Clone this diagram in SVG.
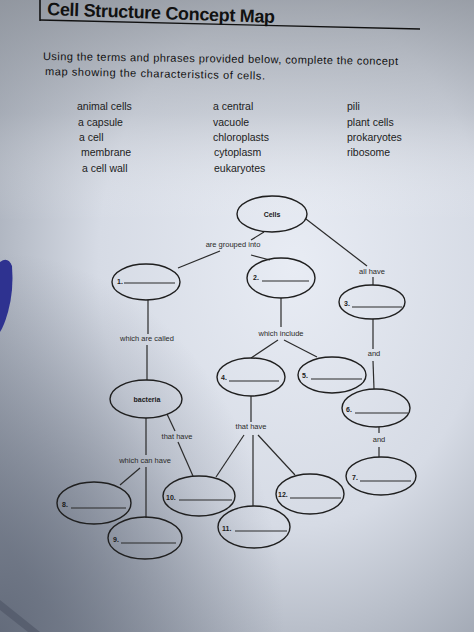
<svg xmlns="http://www.w3.org/2000/svg" width="474" height="632" viewBox="0 0 474 632">
<defs>
<radialGradient id="paper" cx="0.62" cy="0.42" r="0.75">
<stop offset="0" stop-color="#e8ecf4"/>
<stop offset="0.55" stop-color="#d6dbe5"/>
<stop offset="1" stop-color="#9aa1ad"/>
</radialGradient>
<linearGradient id="topshade" x1="0" y1="0" x2="0" y2="1">
<stop offset="0" stop-color="#8e939b" stop-opacity="0.75"/>
<stop offset="0.18" stop-color="#a0a5ad" stop-opacity="0.35"/>
<stop offset="0.35" stop-color="#ffffff" stop-opacity="0"/>
</linearGradient>
<radialGradient id="corner" cx="0" cy="1" r="0.6">
<stop offset="0" stop-color="#5e6676" stop-opacity="0.9"/>
<stop offset="1" stop-color="#5e6676" stop-opacity="0"/>
</radialGradient>
<style>
.ln{stroke:#2b2b2b;stroke-width:1.2;fill:none}
.el{stroke:#1f1f1f;stroke-width:1.4;fill:none}
.lb{font-family:"Liberation Sans",Arial,sans-serif;font-size:7.5px;fill:#2a2a2a}
.nm{font-family:"Liberation Sans",Arial,sans-serif;font-size:7px;font-weight:bold;fill:#1a1a1a}
.tm{font-family:"Liberation Sans",Arial,sans-serif;font-size:10.5px;fill:#1c1c1c}
.hd{font-family:"Liberation Sans",Arial,sans-serif;fill:#111}
</style>
</defs>
<rect width="474" height="632" fill="url(#paper)"/>
<rect width="474" height="632" fill="url(#topshade)"/>
<rect width="474" height="632" fill="url(#corner)"/>
<path d="M0 600 L40 632 L28 632 L0 610 Z" fill="#4c5464" opacity="0.6"/>
<path d="M0 262 Q8 256 12 266 Q14 290 8 312 Q4 326 0 332 Z" fill="#2e3290"/>

<g id="header">
<line x1="40" y1="0" x2="40" y2="21" stroke="#111" stroke-width="1.6"/>
<line x1="40" y1="20" x2="420" y2="29" stroke="#111" stroke-width="1.3"/>
<text class="hd" x="47" y="15" font-size="18" font-weight="bold" textLength="228" transform="rotate(2 47 15)">Cell Structure Concept Map</text>
<text class="hd" x="43" y="60" font-size="11" textLength="355" transform="rotate(0.8 43 60)">Using the terms and phrases provided below, complete the concept</text>
<text class="hd" x="45" y="75" font-size="11" textLength="220" transform="rotate(1.2 45 75)">map showing the characteristics of cells.</text>
</g>

<g id="terms">
<text class="tm" x="77" y="110">animal cells</text>
<text class="tm" x="78" y="126">a capsule</text>
<text class="tm" x="79" y="141">a cell</text>
<text class="tm" x="81" y="156">membrane</text>
<text class="tm" x="82" y="172">a cell wall</text>
<text class="tm" x="213" y="110">a central</text>
<text class="tm" x="213" y="126">vacuole</text>
<text class="tm" x="213" y="141">chloroplasts</text>
<text class="tm" x="214" y="156">cytoplasm</text>
<text class="tm" x="214" y="172">eukaryotes</text>
<text class="tm" x="347" y="110">pili</text>
<text class="tm" x="347" y="126">plant cells</text>
<text class="tm" x="347" y="141">prokaryotes</text>
<text class="tm" x="347" y="156">ribosome</text>
</g>

<g id="connectors">
<line class="ln" x1="264" y1="232" x2="251" y2="240"/>
<line class="ln" x1="220" y1="251" x2="178" y2="268"/>
<line class="ln" x1="251" y1="255" x2="270" y2="260"/>
<text class="lb" x="233" y="247" text-anchor="middle">are grouped into</text>
<line class="ln" x1="306" y1="219" x2="367" y2="266"/>
<text class="lb" x="372" y="274" text-anchor="middle">all have</text>
<line class="ln" x1="373" y1="277" x2="373" y2="285"/>
<line class="ln" x1="148" y1="300" x2="148" y2="334"/>
<text class="lb" x="147" y="341" text-anchor="middle">which are called</text>
<line class="ln" x1="147" y1="345" x2="147" y2="380"/>
<line class="ln" x1="281" y1="298" x2="281" y2="327"/>
<text class="lb" x="281" y="336" text-anchor="middle">which include</text>
<line class="ln" x1="278" y1="340" x2="251" y2="358"/>
<line class="ln" x1="284" y1="340" x2="317" y2="357"/>
<line class="ln" x1="373" y1="319" x2="373" y2="349"/>
<text class="lb" x="374" y="356" text-anchor="middle">and</text>
<line class="ln" x1="373" y1="361" x2="374" y2="389"/>
<line class="ln" x1="167" y1="414" x2="175" y2="431"/>
<text class="lb" x="177" y="439" text-anchor="middle">that have</text>
<line class="ln" x1="178" y1="442" x2="193" y2="476"/>
<line class="ln" x1="146" y1="418" x2="146" y2="455"/>
<text class="lb" x="145" y="463" text-anchor="middle">which can have</text>
<line class="ln" x1="140" y1="468" x2="120" y2="485"/>
<line class="ln" x1="146" y1="467" x2="146" y2="518"/>
<line class="ln" x1="251" y1="396" x2="251" y2="422"/>
<text class="lb" x="251" y="429" text-anchor="middle">that have</text>
<line class="ln" x1="244" y1="435" x2="216" y2="477"/>
<line class="ln" x1="253" y1="435" x2="253" y2="506"/>
<line class="ln" x1="258" y1="435" x2="295" y2="475"/>
<line class="ln" x1="379" y1="427" x2="379" y2="433"/>
<text class="lb" x="379" y="442" text-anchor="middle">and</text>
<line class="ln" x1="379" y1="447" x2="379" y2="457"/>
</g>

<g id="cells"><ellipse class="el" cx="272" cy="214" rx="35" ry="18"/><text class="nm" x="272" y="216.5" text-anchor="middle">Cells</text></g>
<g id="n1"><ellipse class="el" cx="146" cy="282" rx="34" ry="18"/><text class="nm" x="117" y="284">1.</text><line class="ln" x1="124" y1="283" x2="175" y2="283" stroke-width="1"/></g>
<g id="n2"><ellipse class="el" cx="281" cy="278" rx="34" ry="20"/><text class="nm" x="253" y="280">2.</text><line class="ln" x1="262" y1="281" x2="309" y2="281" stroke-width="1"/></g>
<g id="n3"><ellipse class="el" cx="372" cy="302" rx="33" ry="17"/><text class="nm" x="344" y="306">3.</text><line class="ln" x1="352" y1="307" x2="402" y2="307" stroke-width="1"/></g>
<g id="n4"><ellipse class="el" cx="251" cy="377" rx="34" ry="19"/><text class="nm" x="221" y="380">4.</text><line class="ln" x1="229" y1="381" x2="279" y2="381" stroke-width="1"/></g>
<g id="n5"><ellipse class="el" cx="332" cy="375" rx="34" ry="18"/><text class="nm" x="302" y="378">5.</text><line class="ln" x1="311" y1="379" x2="362" y2="379" stroke-width="1"/></g>
<g id="bacteria"><ellipse class="el" cx="146" cy="399" rx="36" ry="19"/><text class="nm" x="147" y="402" text-anchor="middle">bacteria</text></g>
<g id="n6"><ellipse class="el" cx="376" cy="408" rx="34" ry="19"/><text class="nm" x="346" y="412">6.</text><line class="ln" x1="355" y1="413" x2="408" y2="413" stroke-width="1"/></g>
<g id="n7"><ellipse class="el" cx="381" cy="476" rx="35" ry="19"/><text class="nm" x="352" y="480">7.</text><line class="ln" x1="360" y1="481" x2="411" y2="481" stroke-width="1"/></g>
<g id="n8"><ellipse class="el" cx="94" cy="503" rx="37" ry="21"/><text class="nm" x="62" y="507">8.</text><line class="ln" x1="71" y1="508" x2="126" y2="508" stroke-width="1"/></g>
<g id="n9"><ellipse class="el" cx="145" cy="538" rx="37" ry="21"/><text class="nm" x="113" y="542">9.</text><line class="ln" x1="121" y1="543" x2="176" y2="543" stroke-width="1"/></g>
<g id="n10"><ellipse class="el" cx="199" cy="496" rx="36" ry="20"/><text class="nm" x="166" y="500">10.</text><line class="ln" x1="179" y1="500" x2="232" y2="500" stroke-width="1"/></g>
<g id="n11"><ellipse class="el" cx="254" cy="527" rx="36" ry="21"/><text class="nm" x="222" y="531">11.</text><line class="ln" x1="235" y1="531" x2="287" y2="531" stroke-width="1"/></g>
<g id="n12"><ellipse class="el" cx="310" cy="494" rx="34" ry="20"/><text class="nm" x="278" y="497">12.</text><line class="ln" x1="290" y1="498" x2="341" y2="498" stroke-width="1"/></g>
</svg>
